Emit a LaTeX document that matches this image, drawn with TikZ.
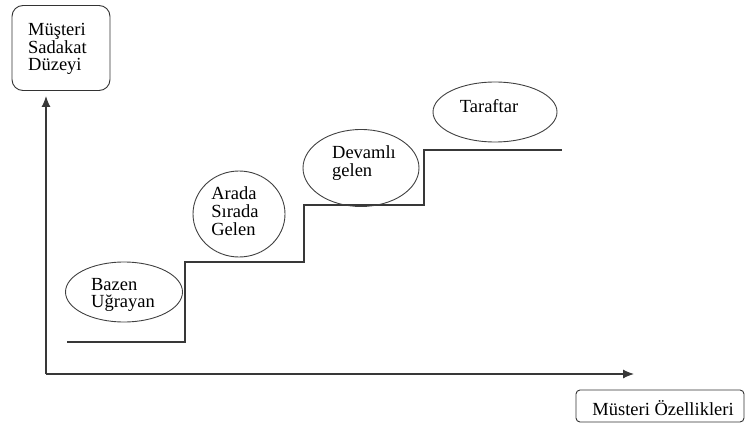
\documentclass[tikz,border=0pt]{standalone}
\usepackage{fontspec}
\setmainfont{Liberation Serif}
\usetikzlibrary{shapes.geometric,arrows.meta}
\begin{document}
\begin{tikzpicture}[x=1pt,y=-1pt,
  line/.style={draw=black!78,line width=1.1pt},
  axis/.style={line,-{Latex[length=11pt,width=9pt]}},
  stage/.style={ellipse,draw=black!75,line width=0.9pt,inner sep=0pt},
  lbl/.style={font=\fontsize{18.5}{17.8}\selectfont,align=left,inner sep=0pt,text=black},
  titlebox/.style={draw=black!80,line width=0.9pt,rounded corners=#1,inner sep=0pt}]
\useasboundingbox (0,0) rectangle (746,425);

% axis titles
\node[titlebox=11pt,minimum width=98pt,minimum height=85pt] (ybox) at (61,48) {};
\node[lbl,anchor=west] (ytext) at (28,49) {Müşteri\\Sadakat\\Düzeyi};
\node[titlebox=4pt,minimum width=168pt,minimum height=32pt] (xbox) at (660,406) {};
\node[lbl] (xtext) at (663,408) {Müsteri Özellikleri};

% axes
\coordinate (O) at (46,374);
\coordinate (ytip) at (46,96);
\coordinate (xtip) at (634,374);
\draw[axis] (O) -- (ytip);
\draw[axis] (O) -- (xtip);

% loyalty staircase
\coordinate (s0) at (67,342);
\coordinate (s1) at (185,342);
\coordinate (s2) at (185,262);
\coordinate (s3) at (304,262);
\coordinate (s4) at (304,205);
\coordinate (s5) at (424,205);
\coordinate (s6) at (424,150);
\coordinate (s7) at (562,150);
\draw[line] (s0) -- (s1) -- (s2) -- (s3) -- (s4) -- (s5) -- (s6) -- (s7);

% customer stages
\node[stage,minimum width=117pt,minimum height=60pt] (e1) at (124,292) {};
\node[lbl] (t1) at (123,295) {Bazen\\Uğrayan};
\node[stage,minimum width=92pt,minimum height=86pt] (e2) at (239,214) {};
\node[lbl] (t2) at (235,211) {Arada\\Sırada\\Gelen};
\node[stage,minimum width=116pt,minimum height=77pt] (e3) at (361,168) {};
\node[lbl] (t3) at (364,163) {Devamlı\\gelen};
\node[stage,minimum width=124pt,minimum height=60pt] (e4) at (495,112) {};
\node[lbl] (t4) at (489,106) {Taraftar};
\end{tikzpicture}
\end{document}
